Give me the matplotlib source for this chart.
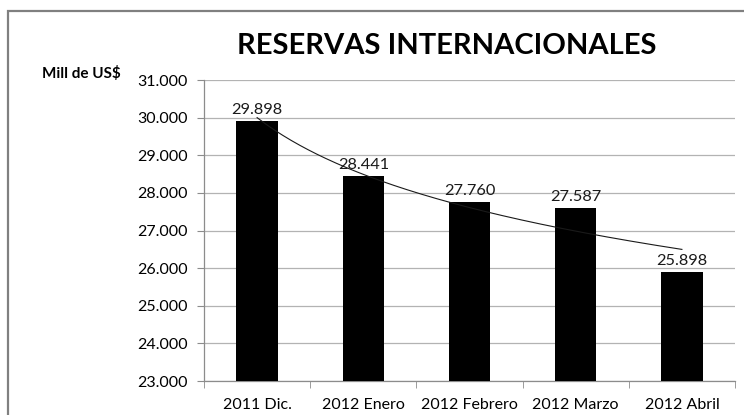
import numpy as np
import matplotlib
matplotlib.use("Agg")
import matplotlib.pyplot as plt
from matplotlib.patches import Rectangle
from matplotlib.ticker import FuncFormatter

categories = ["2011 Dic.", "2012 Enero", "2012 Febrero", "2012 Marzo", "2012 Abril"]
reservas = [29898, 28441, 27760, 27587, 25898]
y_ticks = [23000, 24000, 25000, 26000, 27000, 28000, 29000, 30000, 31000]

title = "RESERVAS INTERNACIONALES"
unit_label = "Mill de US$"

plt.rcParams["font.family"] = ["Lato", "DejaVu Sans"]


def miles(v, pos=None):
    return f"{int(round(v)):,}".replace(",", ".")


fig = plt.figure(figsize=(7.44, 4.15), dpi=100)
ax = fig.add_axes([0.2742, 0.0819, 0.9879 - 0.2742, 0.8072 - 0.0819])

x = np.arange(len(categories))
ax.bar(x, reservas, width=0.39, color="black", zorder=3)

# logarithmic trend line fitted on the series
xs = x + 1
b, a = np.polyfit(np.log(xs), reservas, 1)
xt = np.linspace(1, len(categories), 200)
ax.plot(xt - 1, a + b * np.log(xt), color="#1a1a1a", lw=0.8, zorder=4)

for xi, v in zip(x, reservas):
    ax.annotate(miles(v), (xi, v), xytext=(0, 3), textcoords="offset points",
                ha="center", va="bottom", fontsize=11.8, color="#1a1a1a", zorder=5)

ax.set_xlim(-0.5, len(categories) - 0.5)
ax.set_ylim(y_ticks[0], y_ticks[-1])
ax.set_yticks(y_ticks)
ax.yaxis.set_major_formatter(FuncFormatter(miles))
ax.set_xticks(x)
ax.set_xticklabels(categories)
ax.set_xticks(np.arange(len(categories) + 1) - 0.5, minor=True)
ax.tick_params(axis="x", which="major", length=0, pad=12.5, labelsize=11.5)
ax.tick_params(axis="x", which="minor", length=5, color="#8c8c8c", direction="out")
ax.tick_params(axis="y", length=5, color="#8c8c8c", direction="out", labelsize=11.5, pad=7)
ax.grid(axis="y", color="#b3b3b3", lw=0.9, zorder=0)
for s in ["top", "right"]:
    ax.spines[s].set_visible(False)
for s in ["left", "bottom"]:
    ax.spines[s].set_color("#8c8c8c")
    ax.spines[s].set_linewidth(0.9)

fig.text(447 / 744, 1 - 46 / 415, title, ha="center", va="center",
         fontsize=21, fontweight="bold", color="black")
fig.text(42 / 744, 1 - 73 / 415, unit_label, ha="left", va="center",
         fontsize=11, fontweight="bold", color="black")

# chart frame
fig.patches.append(Rectangle((8 / 744, -0.1), 1.2, 1 - 11 / 415 + 0.1,
                             transform=fig.transFigure, fill=False,
                             edgecolor="#808080", lw=1.6))

fig.savefig("out.png", dpi=100)
